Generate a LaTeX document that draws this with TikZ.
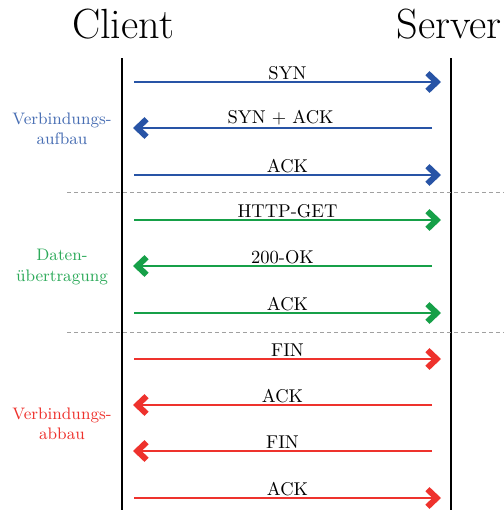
\documentclass[tikz,border=0pt]{standalone}
\usetikzlibrary{arrows.meta}
\definecolor{phaseblue}{RGB}{40,84,166}
\definecolor{phasegreen}{RGB}{22,160,72}
\definecolor{phasered}{RGB}{238,50,45}
\definecolor{sepgray}{RGB}{160,160,160}
\tikzset{
  title/.style={font=\fontsize{22.8pt}{27pt}\selectfont, inner sep=0pt},
  lifeline/.style={line width=1.6pt, black},
  msg/.style={line width=0.8pt, -{Straight Barb[length=5pt,width=9.5pt,line width=3.2pt]}},
  msglabel/.style={font=\normalsize, inner sep=1pt, anchor=south},
  phase/.style={font=\small, align=center, inner sep=0pt},
  separator/.style={sepgray, dash pattern=on 2.2pt off 1.6pt, line width=0.5pt},
}
\begin{document}
\begin{tikzpicture}[x=0.54pt, y=-0.54pt]
  \useasboundingbox (0,0) rectangle (504,510);

  % participants
  \node[title] (client) at (123,24) {Client};
  \node[title] (server) at (449,24) {Server};
  \coordinate (ctop) at (122,58);
  \coordinate (cbot) at (122,510);
  \coordinate (stop) at (451,58);
  \coordinate (sbot) at (451,510);
  \draw[lifeline] (ctop) -- (cbot);
  \draw[lifeline] (stop) -- (sbot);

  % end points of the messages, one row each
  \foreach \i/\y in {1/82,2/128,3/175,4/220,5/266,6/313,7/359,8/405,9/451,10/498}{
    \coordinate (cout\i) at (134,\y);
    \coordinate (sin\i)  at (441,\y);
    \coordinate (sout\i) at (432,\y);
    \coordinate (cin\i)  at (133,\y);
  }

  % phase separators
  \coordinate (sepA1) at (67,192);  \coordinate (sepA2) at (504,192);
  \coordinate (sepB1) at (67,332);  \coordinate (sepB2) at (504,332);
  \draw[separator] (sepA1) -- (sepA2);
  \draw[separator] (sepB1) -- (sepB2);

  % connection setup
  \draw[msg, phaseblue] (cout1) -- node[msglabel, black] {SYN} (sin1);
  \draw[msg, phaseblue] (sout2) -- node[msglabel, black, xshift=-1pt] {SYN + ACK} (cin2);
  \draw[msg, phaseblue] (cout3) -- node[msglabel, black] {ACK} (sin3);

  % data transfer
  \draw[msg, phasegreen] (cout4) -- node[msglabel, black] {HTTP-GET} (sin4);
  \draw[msg, phasegreen] (sout5) -- node[msglabel, black] {200-OK} (cin5);
  \draw[msg, phasegreen] (cout6) -- node[msglabel, black] {ACK} (sin6);

  % connection teardown
  \draw[msg, phasered] (cout7) -- node[msglabel, black] {FIN} (sin7);
  \draw[msg, phasered] (sout8) -- node[msglabel, black] {ACK} (cin8);
  \draw[msg, phasered] (sout9) -- node[msglabel, black] {FIN} (cin9);
  \draw[msg, phasered] (cout10) -- node[msglabel, black] {ACK} (sin10);

  % phase labels
  \node[phase, text=phaseblue!85!white] (setup) at (62,129) {Verbindungs-\\aufbau};
  \node[phase, text=phasegreen!90!white] (transfer) at (62,267) {Daten-\\übertragung};
  \node[phase, text=phasered] (teardown) at (62,424) {Verbindungs-\\abbau};
\end{tikzpicture}
\end{document}
